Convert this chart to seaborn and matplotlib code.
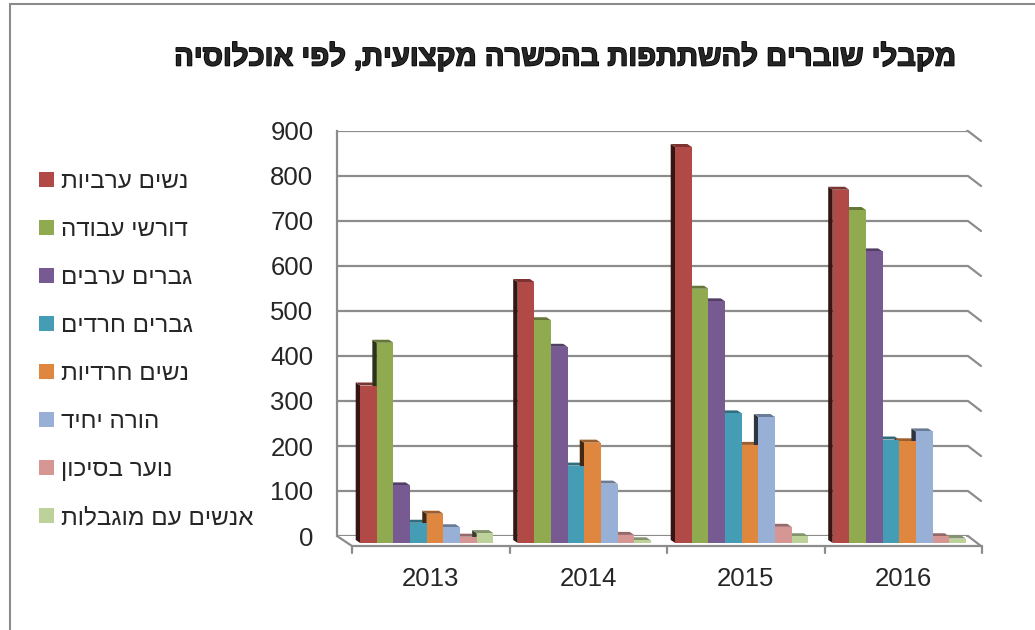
import pandas as pd
import seaborn as sns
import matplotlib.pyplot as plt
import matplotlib.patheffects as pe
from matplotlib.patches import Polygon
from matplotlib.lines import Line2D
from matplotlib.transforms import ScaledTranslation


def rtl(s):
    # matplotlib has no bidi support, so flip Hebrew for display
    return s[::-1]


#data
years = ["2013", "2014", "2015", "2016"]
groups = ["נשים ערביות", "דורשי עבודה", "גברים ערבים", "גברים חרדים",
          "נשים חרדיות", "הורה יחיד", "נוער בסיכון", "אנשים עם מוגבלות"]
arab_women = [350, 580, 880, 785]
job_seekers = [445, 495, 565, 740]
arab_men = [128, 436, 537, 648]
haredi_men = [45, 172, 288, 230]
haredi_women = [65, 223, 218, 226]
single_parent = [35, 132, 280, 248]
youth_at_risk = [14, 18, 36, 15]
disabled = [22, 6, 15, 10]
colors = ["#B14A46", "#8FAA4F", "#775A92", "#449DB5",
          "#E0873F", "#99B0D6", "#D69694", "#BDD29A"]
title = "מקבלי שוברים להשתתפות בהכשרה מקצועית, לפי אוכלוסיה"

series = [arab_women, job_seekers, arab_men, haredi_men,
          haredi_women, single_parent, youth_at_risk, disabled]
rows = []
for g, vals in zip(groups, series):
    for y, v in zip(years, vals):
        rows.append({"year": y, "group": rtl(g), "value": v})
df = pd.DataFrame(rows)

sns.set_style("white")
plt.rcParams["font.family"] = ["Liberation Sans", "DejaVu Sans"]

fig = plt.figure(figsize=(10.35, 6.3), dpi=100)
W, H = 1035, 630
ax_l, ax_r, ax_t, ax_b = 337, 967, 131, 536
ax = fig.add_axes([ax_l / W, 1 - ax_b / H, (ax_r - ax_l) / W, (ax_b - ax_t) / H])

sns.barplot(data=df, x="year", y="value", hue="group",
            hue_order=[rtl(g) for g in groups], palette=colors,
            saturation=1, width=0.845, gap=0, ax=ax)

ax.set_xlim(-0.5, 3.5)
ax.set_ylim(0, 900)
sx = 4.0 / (ax_r - ax_l)       # data units per pixel
sy = 900.0 / (ax_b - ax_t)
grey = "#8C8C8C"

# fake 3d look for the bars
shift = ax.transData + ScaledTranslation(11 / 100, -7 / 100, fig.dpi_scale_trans)
bars = [p for p in ax.patches]
for p in bars:
    x0, w, h = p.get_x(), p.get_width(), p.get_height()
    x1 = x0 + w
    r, g, b, _ = p.get_facecolor()
    dark = (r * 0.3, g * 0.3, b * 0.3)
    mid = (r * 0.7, g * 0.7, b * 0.7)
    dx, dy = 4.5 * sx, 3 * sy
    side = Polygon([(x0, 0), (x0, h), (x0 - dx, h + dy), (x0 - dx, dy)],
                   closed=True, facecolor=dark, edgecolor="none",
                   transform=shift, zorder=1.5, clip_on=False)
    top = Polygon([(x0, h), (x1, h), (x1 - dx, h + dy), (x0 - dx, h + dy)],
                  closed=True, facecolor=mid, edgecolor="none",
                  transform=shift, zorder=1.5, clip_on=False)
    ax.add_patch(side)
    ax.add_patch(top)
    p.set_transform(shift)
    p.set_clip_on(False)
    p.set_zorder(2)
    p.set_edgecolor("none")

# back wall grid + right side wall
ax.set_yticks(range(0, 1000, 100))
ax.grid(axis="y", color=grey, lw=1.6)
ax.set_axisbelow(True)
for v in range(0, 1000, 100):
    ax.plot([3.5, 3.5 + 1 * sx, 3.5 + 14 * sx], [v, v, v - 10 * sy],
            color=grey, lw=1.6, clip_on=False, zorder=0.5)

# floor
fx0, fx1, fy = -0.5 + 15 * sx, 3.5 + 15 * sx, -10 * sy
ax.plot([-0.5, fx0, fx1], [0, fy, fy], color=grey, lw=1.6, clip_on=False, zorder=0.5)
for i in range(5):
    xb = -0.5 + i + 15 * sx
    ax.plot([xb, xb], [fy, fy - 7 * sy], color=grey, lw=1.6, clip_on=False)

for s in ["top", "right", "bottom"]:
    ax.spines[s].set_visible(False)
ax.spines["left"].set_color(grey)
ax.spines["left"].set_linewidth(1.6)
ax.tick_params(axis="y", length=9, width=1.6, color=grey, labelsize=18.5, pad=8)
ax.tick_params(axis="x", length=0, labelsize=18.5, pad=22)
for lab in ax.get_xticklabels():
    lab.set_transform(lab.get_transform() + ScaledTranslation(15 / 100, 0, fig.dpi_scale_trans))
ax.set_xlabel("")
ax.set_ylabel("")

# legend on the left
handles, labels = ax.get_legend_handles_labels()
ax.get_legend().remove()
fig.legend(handles, labels, loc="upper left", bbox_to_anchor=(39 / W, 1 - 171 / H),
           frameon=False, fontsize=17.5,
           handlelength=0.62, handleheight=0.62,
           handletextpad=0.3, labelspacing=1.07, borderpad=0, borderaxespad=0)

fig.text(565 / W, 1 - 57 / H, rtl(title), ha="center", va="center",
         fontsize=21, weight="bold",
         path_effects=[pe.withStroke(linewidth=1.1, foreground="black")])

# chart border
fig.add_artist(Line2D([10 / W, 1], [1 - 4 / H, 1 - 4 / H], color=grey, lw=1.5,
                      transform=fig.transFigure))
fig.add_artist(Line2D([10 / W, 10 / W], [1 - 4 / H, 0], color=grey, lw=1.5,
                      transform=fig.transFigure))

fig.savefig("out.png", dpi=100)
